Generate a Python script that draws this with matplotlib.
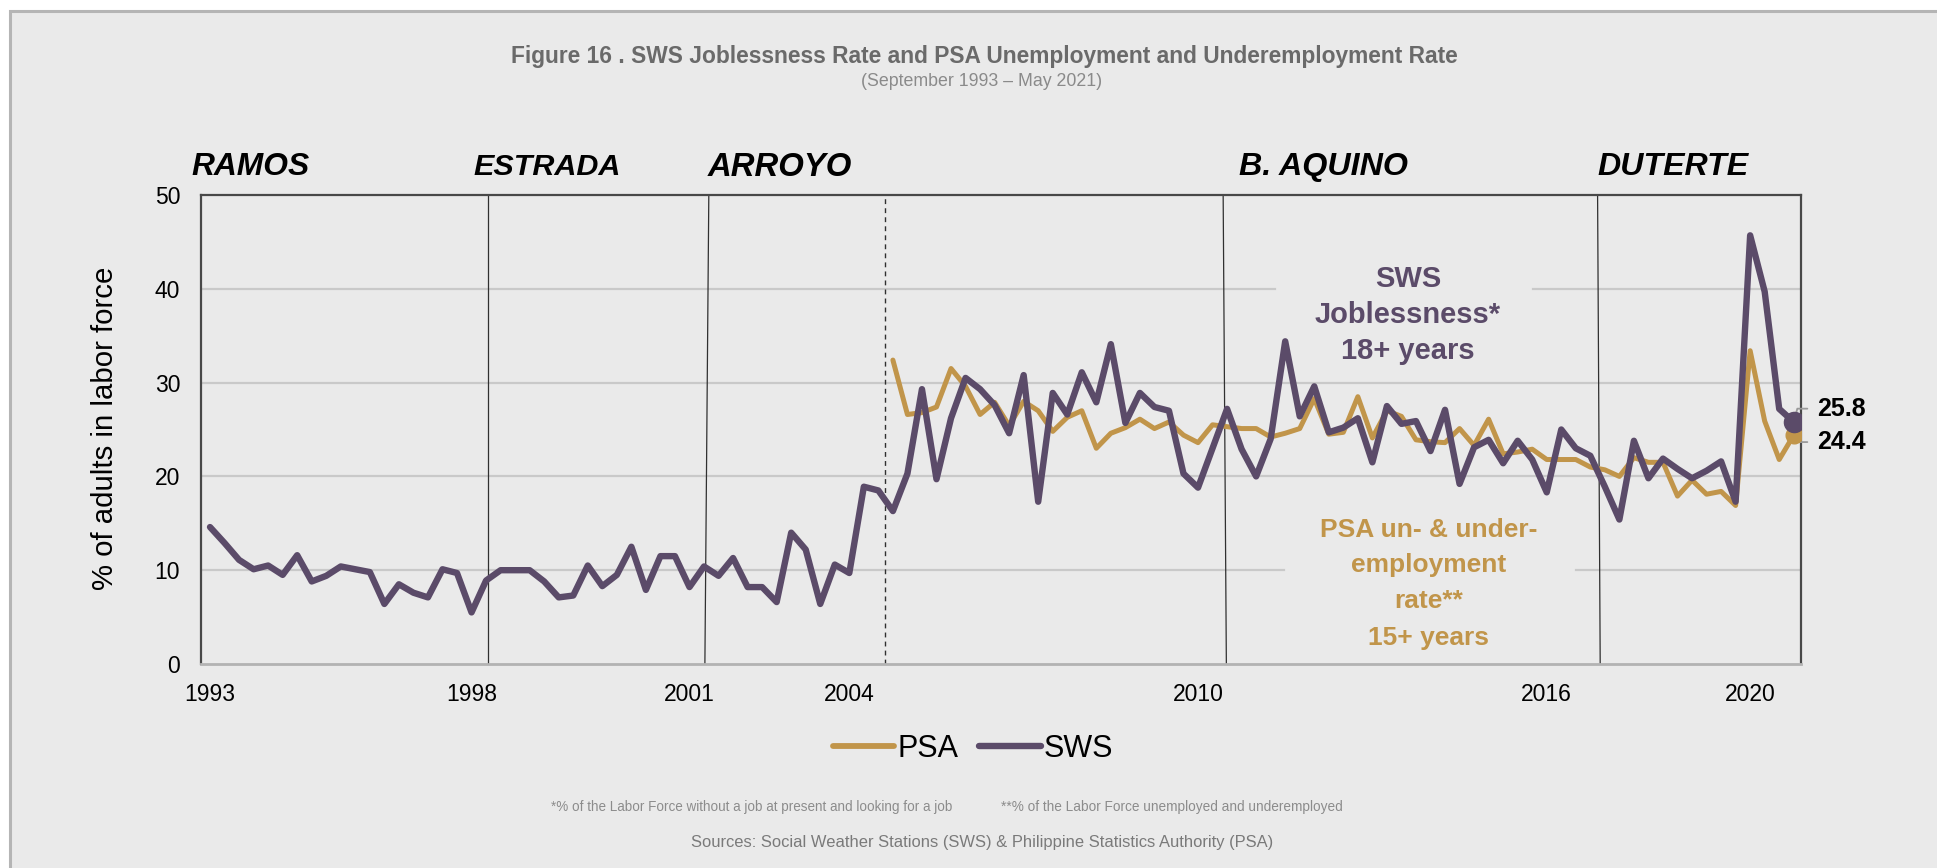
import numpy as np
import matplotlib
matplotlib.use("Agg")
import matplotlib.pyplot as plt
from matplotlib.lines import Line2D
from matplotlib.patches import Rectangle

# SWS joblessness (%), one value per survey, Sep 1993 - May 2021
sws = [14.6, 12.9, 11.1, 10.1, 10.5, 9.5, 11.6, 8.8, 9.4, 10.4,
       10.1, 9.8, 6.4, 8.5, 7.6, 7.1, 10.1, 9.7, 5.5, 8.9,
       10.0, 10.0, 10.0, 8.8, 7.1, 7.3, 10.5, 8.3, 9.5, 12.5,
       7.9, 11.5, 11.5, 8.2, 10.4, 9.4, 11.3, 8.2, 8.2, 6.6,
       14.0, 12.2, 6.4, 10.6, 9.7, 18.9, 18.5, 16.3, 20.3, 29.3,
       19.7, 26.2, 30.5, 29.3, 27.6, 24.6, 30.8, 17.3, 28.9, 26.6,
       31.1, 27.9, 34.1, 25.7, 28.9, 27.4, 27.0, 20.3, 18.8, 23.0,
       27.2, 22.9, 20.0, 24.0, 34.4, 26.4, 29.6, 24.7, 25.2, 26.2,
       21.5, 27.5, 25.6, 25.9, 22.7, 27.1, 19.2, 23.1, 23.9, 21.4,
       23.8, 21.8, 18.3, 25.0, 23.0, 22.2, 18.9, 15.4, 23.8, 19.8,
       21.9, 20.8, 19.8, 20.6, 21.6, 17.3, 45.7, 39.7, 27.2, 25.8]

# PSA un- & underemployment (%), available from survey no. 47 onwards
psa_first = 47
psa_values = [32.4, 26.6, 26.8, 27.4, 31.5, 29.6, 26.6, 27.9, 25.4, 28.0,
              27.0, 24.8, 26.3, 27.0, 23.0, 24.6, 25.2, 26.1, 25.1, 25.8,
              24.4, 23.6, 25.5, 25.3, 25.1, 25.1, 24.2, 24.6, 25.1, 28.3,
              24.5, 24.7, 28.5, 24.1, 27.0, 26.4, 23.9, 23.7, 23.6, 25.1,
              23.3, 26.1, 22.4, 22.6, 22.9, 21.8, 21.8, 21.8, 21.0, 20.7,
              20.0, 22.0, 21.5, 21.5, 17.9, 19.6, 18.1, 18.4, 16.9, 33.4,
              25.9, 21.8, 24.4]

tick_pos = [0, 18, 33, 44, 68, 92, 106]
tick_labels = ["1993", "1998", "2001", "2004", "2010", "2016", "2020"]

# start of each administration (survey index, bottom / top of the line)
terms = [(19.1, 19.1), (34.06, 34.33), (69.95, 69.73), (95.68, 95.5)]
psa_break = 46.46
presidents = ["RAMOS", "ESTRADA", "ARROYO", "B. AQUINO", "DUTERTE"]

W, H = 1937, 868
BG = "#eaeaea"
PURPLE = "#5b4b69"
GOLD = "#c1954a"
plt.rcParams["font.family"] = ["Liberation Sans", "DejaVu Sans"]

sws = np.array(sws)
psa = np.full(len(sws), np.nan)
psa[psa_first:] = psa_values
x = np.arange(len(sws))

fig = plt.figure(figsize=(W / 100, H / 100), dpi=100, facecolor="white")
fig.patches.append(Rectangle((9.5 / W, -0.01), 1.0, 1 - 11 / H + 0.01,
                             transform=fig.transFigure, facecolor=BG,
                             edgecolor="#b5b5b5", lw=2.2, zorder=-10))


def fx(px):
    return px / W


def fy(py):
    return 1 - py / H


def fit(t, length, vertical=False):
    r = fig.canvas.get_renderer()
    bb = t.get_window_extent(renderer=r)
    cur = bb.height if vertical else bb.width
    t.set_fontsize(t.get_fontsize() * length / cur)


ax = fig.add_axes([fx(201), fy(664), 1600 / W, 469 / H])
ax.set_facecolor(BG)
ax.set_xlim(-0.62, len(sws) - 0.5)
ax.set_ylim(0, 50)

# horizontal grid, with gaps behind the series captions
gaps = {40: (73.3, 91.05), 10: (73.9, 94.0)}
x0, x1 = ax.get_xlim()
for g in [10, 20, 30, 40]:
    if g in gaps:
        a, b = gaps[g]
        segs = [(x0, a), (b, x1)]
    else:
        segs = [(x0, x1)]
    for s0, s1 in segs:
        ax.plot([s0, s1], [g, g], color="#c9c9c9", lw=1.6, zorder=1)

for b, t in terms:
    ax.plot([b, t], [0, 50], color="#303030", lw=0.9, zorder=2)
ax.plot([psa_break, psa_break], [0, 50], color="#303030", lw=1.0,
        dashes=(3.5, 3), zorder=2)

ax.plot(x, psa, color=GOLD, lw=3.6, solid_joinstyle="round",
        solid_capstyle="round", zorder=4)
ax.plot(x, sws, color=PURPLE, lw=4.6, solid_joinstyle="round",
        solid_capstyle="round", zorder=5)
ax.plot(x[-1], psa[-1], "o", ms=12, color=GOLD, zorder=4.5)
ax.plot(x[-1], sws[-1], "o", ms=14.5, color=PURPLE, zorder=6)

ax.annotate(f"{sws[-1]:.1f}", xy=(x[-1], sws[-1]), xytext=(16.8, 9.6),
            textcoords="offset points", ha="left", va="center",
            fontsize=18, fontweight="bold", color="black", annotation_clip=False,
            arrowprops=dict(arrowstyle="-", color="#9a9a9a", lw=1.3, shrinkA=5,
                            shrinkB=0, relpos=(0, 0.5),
                            connectionstyle="angle,angleA=0,angleB=75,rad=0"))
ax.annotate(f"{psa[-1]:.1f}", xy=(x[-1], psa[-1]), xytext=(16.8, -5.0),
            textcoords="offset points", ha="left", va="center",
            fontsize=18, fontweight="bold", color="black", annotation_clip=False,
            arrowprops=dict(arrowstyle="-", color="#9a9a9a", lw=1.3, shrinkA=5,
                            shrinkB=0, relpos=(0, 0.5),
                            connectionstyle="angle,angleA=0,angleB=-60,rad=0"))

for s in ["top", "left", "right"]:
    ax.spines[s].set_color("#484848")
    ax.spines[s].set_linewidth(1.6)
ax.spines["bottom"].set_color("#b3b3b3")
ax.spines["bottom"].set_linewidth(2)

ax.set_yticks(range(0, 51, 10))
ax.set_xticks(tick_pos, tick_labels)
ax.tick_params(axis="y", length=0, labelsize=16.5, pad=15)
ax.tick_params(axis="x", length=0, labelsize=16.5, pad=14)

# series captions
for txt, yb in zip(["SWS", "Joblessness*", "18+ years"], [287, 323, 359]):
    fig.text(fx(1408), fy(yb), txt, ha="center", va="baseline",
             fontsize=21, fontweight="bold", color=PURPLE)
for txt, yb in zip(["PSA un- & under-", "employment", "rate**", "15+ years"],
                   [537, 572, 608, 645]):
    fig.text(fx(1429), fy(yb), txt, ha="center", va="baseline",
             fontsize=19, fontweight="bold", color=GOLD)

# administrations
name_x = [191, 473, 708, 1239, 1597]
name_w = [118, 147, 144, 169, 151]
for name, nx, nw in zip(presidents, name_x, name_w):
    t = fig.text(fx(nx), fy(167), name, ha="left", va="center",
                 fontsize=20, fontweight="bold", fontstyle="italic", color="black")
    fit(t, nw)

t = fig.text(fx(105), fy(428), "% of adults in labor force", rotation=90,
             ha="center", va="center", fontsize=18, color="black")
fit(t, 324, vertical=True)

t = fig.text(fx(984), fy(56),
             "Figure 16 . SWS Joblessness Rate and PSA Unemployment and Underemployment Rate",
             ha="center", va="center", fontsize=17, fontweight="bold", color="#6a6a6a")
fit(t, 948)
t = fig.text(fx(982), fy(82), "(September 1993 \u2013 May 2021)",
             ha="center", va="center", fontsize=12, color="#8a8a8a")
fit(t, 242)

handles = [Line2D([], [], color=GOLD, lw=4.2, solid_capstyle="round"),
           Line2D([], [], color=PURPLE, lw=4.6, solid_capstyle="round")]
fig.legend(handles, ["PSA", "SWS"], loc="center", bbox_to_anchor=(fx(973), fy(749)),
           ncol=2, frameon=False, fontsize=22, handlelength=2.0,
           handletextpad=0.1, columnspacing=0.7)

t = fig.text(fx(551), fy(807),
             "*% of the Labor Force without a job at present and looking for a job",
             ha="left", va="center", fontsize=9, color="#8c8c8c")
fit(t, 404)
t = fig.text(fx(1001), fy(807), "**% of the Labor Force unemployed and underemployed",
             ha="left", va="center", fontsize=9, color="#8c8c8c")
fit(t, 340)
t = fig.text(fx(982), fy(842),
             "Sources: Social Weather Stations (SWS) & Philippine Statistics Authority (PSA)",
             ha="center", va="center", fontsize=12, color="#7a7a7a")
fit(t, 580)

fig.savefig("out.png", dpi=100, facecolor=fig.get_facecolor())
